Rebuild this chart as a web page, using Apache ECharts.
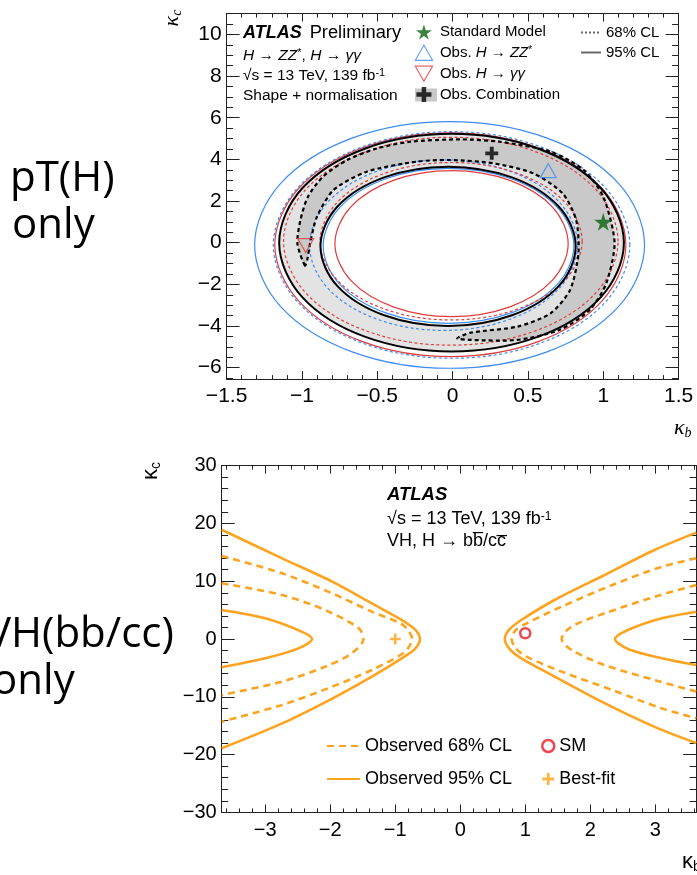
<!DOCTYPE html>
<html>
<head>
<meta charset="utf-8">
<script src="https://cdn.jsdelivr.net/npm/echarts@6/dist/echarts.min.js"></script>
<style>
  html, body { margin: 0; padding: 0; background: #fff; overflow: hidden; }
  #chart { width: 697px; height: 875px; }
</style>
</head>
<body>
<div id="chart"></div>
<script>
// ---------- upper panel: kappa_b vs kappa_c from the pT(H) spectra ----------
const ptKbTicks = [-1.5, -1, -0.5, 0, 0.5, 1, 1.5];
const ptKcTicks = [-6, -4, -2, 0, 2, 4, 6, 8, 10];

// H->ZZ* contours
const zz95Outer = [[1.274,-0.11],[1.101,2.85],[0.627,5.02],[-0.02,5.81],[-0.667,5.02],[-1.141,2.85],[-1.314,-0.11],[-1.141,-3.07],[-0.667,-5.24],[-0.02,-6.03],[0.627,-5.24],[1.101,-3.07]];
const zz95Inner = [[0.805,-0.15],[0.693,1.71],[0.389,3.07],[-0.027,3.57],[-0.443,3.07],[-0.747,1.71],[-0.859,-0.15],[-0.747,-2.01],[-0.443,-3.37],[-0.027,-3.87],[0.389,-3.37],[0.693,-2.01]];
const zz68Outer = [[1.176,-0.11],[1.017,2.61],[0.585,4.60],[-0.007,5.33],[-0.599,4.60],[-1.031,2.61],[-1.19,-0.11],[-1.031,-2.83],[-0.599,-4.82],[-0.007,-5.55],[0.585,-4.82],[1.017,-2.83]];
const zz68Inner = [[0.83,-0.12],[0.711,1.925],[0.385,3.422],[-0.06,3.97],[-0.505,3.422],[-0.831,1.925],[-0.95,-0.12],[-0.831,-2.165],[-0.505,-3.662],[-0.06,-4.21],[0.385,-3.662],[0.711,-2.165]];
// H->yy contours
const yy95Outer = [[1.15,-0.095],[0.994,2.59],[0.568,4.56],[-0.015,5.28],[-0.598,4.56],[-1.024,2.59],[-1.18,-0.095],[-1.024,-2.78],[-0.598,-4.75],[-0.015,-5.47],[0.568,-4.75],[0.994,-2.78]];
const yy95Inner = [[0.767,-0.045],[0.663,1.708],[0.38,2.99],[-0.007,3.46],[-0.394,2.99],[-0.677,1.708],[-0.781,-0.045],[-0.677,-1.798],[-0.394,-3.08],[-0.007,-3.55],[0.38,-3.08],[0.663,-1.798]];
const yy68Outer = [[1.098,0.07],[0.949,2.565],[0.543,4.391],[-0.012,5.06],[-0.567,4.391],[-0.973,2.565],[-1.122,0.07],[-0.973,-2.425],[-0.567,-4.251],[-0.012,-4.92],[0.543,-4.251],[0.949,-2.425]];
const yy68Inner = [[0.86,0.07],[0.743,1.96],[0.425,3.343],[-0.01,3.85],[-0.445,3.343],[-0.763,1.96],[-0.88,0.07],[-0.763,-1.82],[-0.445,-3.203],[-0.01,-3.71],[0.425,-3.203],[0.743,-1.82]];
// combination contours
const comb95Outer = [[1.137,0],[0.984,2.613],[0.565,4.525],[-0.007,5.225],[-0.579,4.525],[-0.998,2.613],[-1.151,0],[-0.998,-2.613],[-0.579,-4.525],[-0.007,-5.225],[0.565,-4.525],[0.984,-2.613]];
const comb95Inner = [[0.817,-0.175],[0.704,1.738],[0.394,3.137],[-0.03,3.65],[-0.454,3.137],[-0.764,1.738],[-0.877,-0.175],[-0.764,-2.088],[-0.454,-3.487],[-0.03,-4.0],[0.394,-3.487],[0.704,-2.088]];
const comb68 = [
  [-0.98,-1.10],[-1.03,-0.05],[-1.01,1.09],[-0.96,2.21],[-0.86,3.17],[-0.70,3.97],[-0.50,4.53],[-0.28,4.85],[0.05,4.96],
  [0.31,4.85],[0.65,4.37],[0.87,3.49],[1.00,2.21],[1.075,0],[1.02,-1.95],[0.91,-3.23],[0.71,-4.19],[0.43,-4.67],[0.12,-4.67],[0.03,-4.59],
  [0.12,-4.32],[0.43,-4.03],[0.65,-3.39],[0.78,-2.27],[0.835,-0.51],[0.82,1.09],[0.73,2.37],[0.535,3.33],[0.27,3.81],[-0.02,3.97],
  [-0.24,3.89],[-0.57,3.41],[-0.79,2.53],[-0.90,1.25],[-0.945,0],[-0.965,-0.83]
];
const smPoint = [[1, 1]];
const zzBest = [[0.635, 3.46]];
const yyBest = [[-0.975, -0.14]];
const combBest = [[0.26, 4.29]];

// ---------- lower panel: VH, H->bb/cc ----------
const vhKbTicks = [-3, -2, -1, 0, 1, 2, 3];
const vhKcTicks = [-30, -20, -10, 0, 10, 20, 30];
const vh95LeftOuter  = [[-3.67,18.9],[-2.74,13.96],[-1.97,9.92],[-1.36,6.17],[-0.90,3.29],[-0.70,1.7],[-0.62,0],[-0.70,-1.75],[-0.90,-3.34],[-1.36,-6.5],[-1.97,-10.3],[-2.74,-14.6],[-3.67,-18.9]];
const vh95LeftInner  = [[-3.67,5.02],[-3.0,3.58],[-2.44,1.27],[-2.28,0],[-2.49,-1.62],[-3.0,-3.34],[-3.67,-4.9]];
const vh68LeftOuter  = [[-3.67,14.36],[-2.74,11.36],[-1.97,7.9],[-1.36,4.73],[-0.92,2.7],[-0.80,1.5],[-0.74,0],[-0.80,-1.55],[-0.92,-2.77],[-1.36,-5.36],[-1.97,-8.25],[-2.74,-11.4],[-3.67,-14.3]];
const vh68LeftInner  = [[-3.67,9.63],[-2.74,7.6],[-2.08,5.02],[-1.56,1.84],[-1.49,0],[-1.67,-2.48],[-2.08,-4.79],[-2.74,-7.38],[-3.67,-9.69]];
const vh95RightOuter = [[3.63,18.4],[2.99,15.4],[2.22,11.07],[1.45,6.75],[0.94,3.29],[0.76,1.7],[0.685,0],[0.76,-1.75],[0.94,-3.34],[1.45,-6.5],[2.22,-11.1],[2.99,-15.2],[3.63,-18.0]];
const vh95RightInner = [[3.63,4.73],[3.1,3.58],[2.58,1.56],[2.38,0],[2.58,-1.73],[3.1,-3.34],[3.63,-4.5]];
const vh68RightOuter = [[3.63,13.96],[3.1,12.5],[2.33,9.3],[1.56,5.6],[1.02,2.7],[0.85,1.5],[0.79,0],[0.85,-1.55],[1.02,-3.06],[1.56,-5.65],[2.33,-8.8],[3.1,-12.0],[3.63,-13.7]];
const vh68RightInner = [[3.63,9.34],[2.99,7.3],[2.22,4.44],[1.71,2.13],[1.56,0],[1.71,-1.9],[2.22,-4.5],[2.99,-7.1],[3.63,-9.1]];
const vhBestFit = [[-1, 0]];
const vhSM = [[1, 1]];

// ---------- styling ----------
const FONT = '"Liberation Sans", Arial, Helvetica, sans-serif';
const BLUE = '#3d8bf2', RED = '#e03c3c', GREEN = '#0a640f', ORANGE = '#fca41f', SMRED = '#ea1a22';
const FRAME = '#222';
const CLEAR = 'rgba(0,0,0,0)';

const STAR = 'path://M50,0 L61,35 L98,35 L68,57 L79,91 L50,70 L21,91 L32,57 L2,35 L39,35 Z';
const TRI_UP = 'path://M50,0 L100,87 L0,87 Z';
const TRI_DOWN = 'path://M0,0 L100,0 L50,87 Z';
const CROSS = 'path://M35,0 H65 V35 H100 V65 H65 V100 H35 V65 H0 V35 H35 Z';
const PLUS = 'path://M38,0 H62 V38 H100 V62 H62 V100 H38 V62 H0 V38 H38 Z';

function fmt(v) { return v < 0 ? '\u2212' + Math.abs(v) : String(v); }
function steps(a, b, s) {
  const out = [];
  for (let v = a; v <= b + 1e-9; v += s) out.push(Math.round(v * 1000) / 1000);
  return out;
}

// frame axes: labelled major ticks, minor ticks, mirrored on the opposite side
function frameAxes(dim, grid, min, max, majors, minors, majLen, minLen, fontSize, margin) {
  const sides = dim === 'x' ? ['bottom', 'top'] : ['left', 'right'];
  const out = [];
  sides.forEach((pos, si) => {
    [true, false].forEach(isMajor => {
      out.push({
        type: 'value', gridIndex: grid, min, max, position: pos,
        splitLine: { show: false },
        axisLine: { show: isMajor, onZero: false, lineStyle: { color: FRAME, width: 1 } },
        axisTick: {
          show: true, inside: true, length: isMajor ? majLen : minLen,
          customValues: isMajor ? majors : minors,
          lineStyle: { color: FRAME, width: 1 }
        },
        axisLabel: {
          show: isMajor && si === 0, customValues: majors, formatter: fmt,
          fontFamily: FONT, fontSize, color: '#000', margin
        }
      });
    });
  });
  return out;
}

const xAxes = [
  ...frameAxes('x', 0, -1.5, 1.5, ptKbTicks, steps(-1.5, 1.5, 0.1), 8, 4, 21, 7),
  ...frameAxes('x', 1, -3.67, 3.63, vhKbTicks, steps(-3.6, 3.6, 0.2), 8, 4, 20, 8)
];
const yAxes = [
  ...frameAxes('y', 0, -6.55, 11, ptKcTicks, steps(-6.5, 11, 0.5), 13, 6.5, 21, 5),
  ...frameAxes('y', 1, -30, 30, vhKcTicks, steps(-30, 30, 2), 13, 6.5, 20, 5)
];

// closed contour drawn as a smoothed polygon in data space
function ring(name, pts, style, smooth, z) {
  return {
    type: 'custom', name, xAxisIndex: 0, yAxisIndex: 0, silent: true, z: z || 2,
    data: [pts[0]],
    renderItem: (params, api) => ({
      type: 'polygon',
      shape: { points: pts.map(p => api.coord(p)), smooth: smooth },
      style: Object.assign({ fill: 'none', stroke: 'none' }, style)
    })
  };
}

function vhLine(name, pts, dashed) {
  return {
    type: 'line', name, xAxisIndex: 4, yAxisIndex: 4, data: pts,
    smooth: 0.3, symbol: 'none', clip: true, silent: true, z: 3,
    lineStyle: { color: ORANGE, width: 2.6, type: dashed ? [7, 5] : 'solid' },
    itemStyle: { color: ORANGE }
  };
}

const solid = (c, w) => ({ stroke: c, lineWidth: w });
const dashed = (c, w, d) => ({ stroke: c, lineWidth: w, lineDash: d });

const series = [
  // filled bands of the combined fit
  ring('band95', comb95Outer, { fill: '#e3e3e3' }, 0.35, 1),
  ring('hole95', comb95Inner, { fill: '#ffffff' }, 0.35, 1),
  ring('band68', comb68, { fill: '#c9c9c9' }, 0.25, 1),
  // individual channel contours
  ring('zz95o', zz95Outer, solid(BLUE, 1.2), 0.35),
  ring('zz95i', zz95Inner, solid(BLUE, 1.2), 0.35),
  ring('yy95o', yy95Outer, solid(RED, 1.2), 0.35),
  ring('yy95i', yy95Inner, solid(RED, 1.2), 0.35),
  ring('zz68o', zz68Outer, dashed(BLUE, 1.2, [3, 2.5]), 0.35),
  ring('zz68i', zz68Inner, dashed(BLUE, 1.2, [3, 2.5]), 0.35),
  ring('yy68o', yy68Outer, dashed(RED, 1.2, [3, 2.5]), 0.35),
  ring('yy68i', yy68Inner, dashed(RED, 1.2, [3, 2.5]), 0.35),
  ring('c95o', comb95Outer, solid('#000', 2), 0.35, 3),
  ring('c95i', comb95Inner, solid('#000', 2), 0.35, 3),
  ring('c68', comb68, dashed('#000', 2.2, [4, 3]), 0.25, 3),
  // line-style keys
  { type: 'line', name: '68% CL', xAxisIndex: 0, yAxisIndex: 0, data: [], symbol: 'none',
    lineStyle: { color: '#666', width: 1.3, type: [2, 2] }, itemStyle: { color: '#666' } },
  { type: 'line', name: '95% CL', xAxisIndex: 0, yAxisIndex: 0, data: [], symbol: 'none',
    lineStyle: { color: '#666', width: 1.2 }, itemStyle: { color: '#666' } },
  // best-fit and SM points
  { type: 'scatter', name: 'Obs. Combination', xAxisIndex: 0, yAxisIndex: 0, data: combBest,
    symbol: CROSS, symbolSize: 13, itemStyle: { color: '#000' }, z: 5, silent: true },
  { type: 'scatter', name: 'Obs. H → ZZ*', xAxisIndex: 0, yAxisIndex: 0, data: zzBest,
    symbol: TRI_UP, symbolSize: [16, 14], z: 5, silent: true,
    itemStyle: { color: CLEAR, borderColor: BLUE, borderWidth: 1.2 } },
  { type: 'scatter', name: 'Obs. H → γγ', xAxisIndex: 0, yAxisIndex: 0, data: yyBest,
    symbol: TRI_DOWN, symbolSize: [16, 14], z: 5, silent: true,
    itemStyle: { color: CLEAR, borderColor: RED, borderWidth: 1.2 } },
  { type: 'scatter', name: 'Standard Model', xAxisIndex: 0, yAxisIndex: 0, data: smPoint,
    symbol: STAR, symbolSize: 18, itemStyle: { color: GREEN }, z: 6, silent: true },

  // lower panel
  vhLine('Observed 95% CL', vh95LeftOuter, false),
  vhLine('Observed 95% CL', vh95LeftInner, false),
  vhLine('Observed 95% CL', vh95RightOuter, false),
  vhLine('Observed 95% CL', vh95RightInner, false),
  vhLine('Observed 68% CL', vh68LeftOuter, true),
  vhLine('Observed 68% CL', vh68LeftInner, true),
  vhLine('Observed 68% CL', vh68RightOuter, true),
  vhLine('Observed 68% CL', vh68RightInner, true),
  { type: 'scatter', name: 'Best-fit', xAxisIndex: 4, yAxisIndex: 4, data: vhBestFit,
    symbol: PLUS, symbolSize: 11, itemStyle: { color: ORANGE }, z: 5, silent: true },
  { type: 'scatter', name: 'SM', xAxisIndex: 4, yAxisIndex: 4, data: vhSM, symbol: 'circle', symbolSize: 10,
    itemStyle: { color: CLEAR, borderColor: SMRED, borderWidth: 2.5 }, z: 5, silent: true }
];

const richBase = (size) => ({
  i: { fontStyle: 'italic', fontFamily: FONT, fontSize: size, color: '#000' },
  u: { fontFamily: FONT, fontSize: Math.round(size * 0.68), color: '#000', verticalAlign: 'top', lineHeight: 10 },
  n: { fontFamily: FONT, fontSize: size, color: '#000' }
});
const legendText = {
  'Standard Model': '{n|Standard Model}',
  'Obs. H → ZZ*': '{n|Obs. }{i|H}{n| → }{i|ZZ}{u|*}',
  'Obs. H → γγ': '{n|Obs. }{i|H}{n| → }{i|γγ}',
  'Obs. Combination': '{n|Obs. Combination}'
};
// line keys show only the stroke, no marker
const lineKey = name => ({ name, itemStyle: { color: CLEAR, borderColor: CLEAR, borderWidth: 0, opacity: 0 } });

const legends = [
  {
    left: 414.7, top: 24, orient: 'vertical', selectedMode: false,
    itemWidth: 22, itemHeight: 15, itemGap: 4.7, padding: 0,
    data: [
      { name: 'Standard Model' },
      { name: 'Obs. H → ZZ*', itemStyle: { color: CLEAR, borderColor: BLUE, borderWidth: 1.2 } },
      { name: 'Obs. H → γγ', itemStyle: { color: CLEAR, borderColor: RED, borderWidth: 1.2 } },
      { name: 'Obs. Combination' }
    ],
    formatter: name => legendText[name] || name,
    textStyle: { fontFamily: FONT, fontSize: 15, lineHeight: 16, color: '#000', rich: richBase(15) }
  },
  {
    left: 580, top: 24.5, orient: 'vertical', selectedMode: false,
    itemWidth: 20, itemHeight: 14, itemGap: 4, padding: 0,
    data: [lineKey('68% CL'), lineKey('95% CL')],
    textStyle: { fontFamily: FONT, fontSize: 15, lineHeight: 16, color: '#000' }
  },
  {
    left: 326, top: 737, orient: 'vertical', selectedMode: false,
    itemWidth: 33, itemHeight: 14, itemGap: 15, padding: 0,
    data: [lineKey('Observed 68% CL'), lineKey('Observed 95% CL')],
    textStyle: { fontFamily: FONT, fontSize: 18, lineHeight: 18, color: '#000' }
  },
  {
    left: 541, top: 737, orient: 'vertical', selectedMode: false,
    itemWidth: 12, itemHeight: 12, itemGap: 15, padding: 0,
    data: [
      { name: 'SM', itemStyle: { color: CLEAR, borderColor: SMRED, borderWidth: 2.5 } },
      { name: 'Best-fit' }
    ],
    textStyle: { fontFamily: FONT, fontSize: 18, lineHeight: 18, color: '#000' }
  }
];

function txt(x, y, text, font, extra) {
  return Object.assign({
    type: 'text', x, y, silent: true,
    style: Object.assign({ text, font, fill: '#000', align: 'left', verticalAlign: 'middle' }, (extra && extra.style) || {})
  }, extra && extra.rotation ? { rotation: extra.rotation } : {});
}

const CAPTION = '42px "Open Sans", "Noto Sans", sans-serif';
const kappaRich = (italic, size) => ({
  k: { fontFamily: italic ? '"Liberation Serif", serif' : FONT, fontStyle: italic ? 'italic' : 'normal', fontSize: size, lineHeight: size + 2, color: '#000' },
  s: { fontFamily: italic ? '"Liberation Serif", serif' : FONT, fontStyle: italic ? 'italic' : 'normal', fontSize: Math.round(size * 0.65), lineHeight: Math.round(size * 0.65), verticalAlign: 'bottom', color: '#000' }
});

const graphic = [
  // panel captions
  txt(10, 179, 'pT(H)', CAPTION),
  txt(12, 226, 'only', CAPTION),
  txt(-14, 635, 'VH(bb/cc)', CAPTION),
  txt(-8, 682, 'only', CAPTION),
  // upper panel labels
  txt(243, 33, '', '', { style: { text: '{a|ATLAS}{n|Preliminary}', rich: {
    a: { fontFamily: FONT, fontSize: 18, fontWeight: 'bold', fontStyle: 'italic', color: '#000', padding: [0, 8, 0, 0] },
    n: { fontFamily: FONT, fontSize: 18.3, color: '#000' } } } }),
  txt(243, 55.5, '', '', { style: { text: '{i|H}{n| → }{i|ZZ}{u|*}{n|, }{i|H}{n| → }{i|γγ}', rich: richBase(15.5) } }),
  txt(243, 75.5, '', '', { style: { text: '{n|√s = 13 TeV, 139 fb}{u|-1}', rich: richBase(15.5) } }),
  txt(243, 95.5, 'Shape + normalisation', '15.5px ' + FONT),
  { type: 'rect', z: -1, silent: true, shape: { x: 415, y: 88.5, width: 22, height: 13 }, style: { fill: '#c8c8c8' } },
  // lower panel labels
  txt(387, 495, 'ATLAS', 'italic bold 18.5px ' + FONT),
  txt(387, 519.5, '', '', { style: { text: '{n|√s = 13 TeV, 139 fb}{u|-1}', rich: richBase(18) } }),
  txt(387, 541.5, 'VH, H → bb\u0305/cc\u0305', '18px ' + FONT),
  // axis titles
  txt(172, 18, '', '', { rotation: Math.PI / 2, style: { align: 'center', text: '{k|κ}{s|c}', rich: kappaRich(true, 22) } }),
  txt(674, 428, '', '', { style: { text: '{k|κ}{s|b}', rich: kappaRich(true, 22) } }),
  txt(151, 471, '', '', { rotation: Math.PI / 2, style: { align: 'center', text: '{k|κ}{s|c}', rich: kappaRich(false, 22) } }),
  txt(682, 862, '', '', { style: { text: '{k|κ}{s|b}', rich: kappaRich(false, 22) } })
];

const chart = echarts.init(document.getElementById('chart'), null, { renderer: 'canvas' });
chart.setOption({
  animation: false,
  backgroundColor: '#ffffff',
  grid: [
    { left: 226.6, top: 13.6, width: 452, height: 365.5 },
    { left: 221.7, top: 465.6, width: 474.5, height: 346.8 }
  ],
  xAxis: xAxes,
  yAxis: yAxes,
  legend: legends,
  graphic: graphic,
  series: series
});
</script>
</body>
</html>
